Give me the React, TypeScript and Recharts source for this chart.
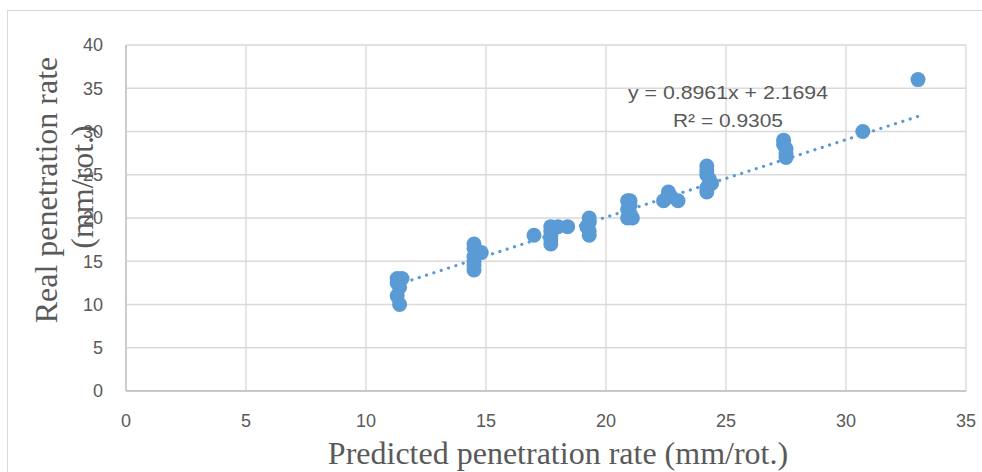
import { ScatterChart, Scatter, XAxis, YAxis, CartesianGrid } from 'recharts';

// predicted vs real penetration rate (mm/rot.)
const predicted = [
  11.3, 11.5, 11.3, 11.4, 11.3, 11.4,
  14.5, 14.5, 14.8, 14.5, 14.5, 14.5, 14.5,
  17.0,
  17.7, 17.7, 17.7, 17.7, 17.7, 18.0, 18.4,
  19.2, 19.3, 19.3, 19.3, 19.3,
  20.9, 21.0, 20.9, 21.0, 20.9, 21.1, 21.0,
  22.4, 22.6, 22.7, 23.0,
  24.2, 24.2, 24.2, 24.3, 24.4, 24.2, 24.2,
  27.4, 27.4, 27.5, 27.5, 27.5,
  30.7,
  33.0,
];
const real = [
  13, 13, 12.5, 12, 11, 10,
  17, 16.5, 16, 15.5, 15, 14.5, 14,
  18,
  19, 18.5, 18, 17.5, 17, 19, 19,
  19, 20, 19.5, 18.5, 18,
  22, 21.5, 21, 20.5, 20, 20, 22,
  22, 23, 22.5, 22,
  26, 25.5, 25, 24.5, 24, 23.5, 23,
  29, 28.5, 28, 27.5, 27,
  30,
  36,
];

// linear trendline as printed on the chart
const slope = 0.8961;
const intercept = 2.1694;
const trendX = [11.3, 33.0];

const xTicks = [0, 5, 10, 15, 20, 25, 30, 35];
const yTicks = [0, 5, 10, 15, 20, 25, 30, 35, 40];

const points = predicted.map((x, i) => ({ x, y: real[i] }));
const trend = trendX.map((x) => ({ x, y: slope * x + intercept }));

const colors = {
  point: '#5b9bd5',
  grid: '#d9d9d9',
  axis: '#bfbfbf',
  text: '#595959',
};

const tickStyle = { fontSize: 18, fill: colors.text, fontFamily: 'Liberation Sans, Arial, sans-serif' };
const serif = 'Liberation Serif, Times New Roman, serif';

const Dot = (props: any) => <circle cx={props.cx} cy={props.cy} r={7.5} fill={colors.point} />;
const NoDot = () => <g />;

export default function App() {
  return (
    <div style={{ position: 'absolute', left: 0, top: 0, width: 982, height: 472, background: '#fff', overflow: 'hidden' }}>
      <div
        style={{
          position: 'absolute',
          left: 7,
          top: 10,
          width: 990,
          height: 480,
          border: `1px solid ${colors.grid}`,
        }}
      />
      <div style={{ position: 'absolute', left: 0, top: 0 }}>
        <ScatterChart width={982} height={472} margin={{ top: 45, right: 16, left: 86, bottom: 51 }}>
          <CartesianGrid stroke={colors.grid} strokeWidth={1.3} />
          <XAxis
            type="number"
            dataKey="x"
            domain={[0, 35]}
            ticks={xTicks}
            height={30}
            tickSize={0}
            tickMargin={23}
            stroke={colors.axis}
            strokeWidth={1.3}
            tick={tickStyle}
          />
          <YAxis
            type="number"
            dataKey="y"
            domain={[0, 40]}
            ticks={yTicks}
            width={40}
            tickSize={0}
            tickMargin={23}
            stroke={colors.axis}
            strokeWidth={1.3}
            tick={tickStyle}
          />
          <Scatter data={points} shape={Dot} isAnimationActive={false} />
          <Scatter
            data={trend}
            shape={NoDot}
            line={{ stroke: colors.point, strokeWidth: 3.2, strokeDasharray: '0.1 7.6', strokeLinecap: 'round' }}
            isAnimationActive={false}
          />
        </ScatterChart>
      </div>
      <svg width={982} height={472} style={{ position: 'absolute', left: 0, top: 0, pointerEvents: 'none' }}>
        <text
          x={728}
          y={99}
          textAnchor="middle"
          fontSize={19}
          fill={colors.text}
          fontFamily="Liberation Sans, Arial, sans-serif"
          textLength={200}
          lengthAdjust="spacingAndGlyphs"
        >
          y = 0.8961x + 2.1694
        </text>
        <text
          x={728}
          y={127}
          textAnchor="middle"
          fontSize={19}
          fill={colors.text}
          fontFamily="Liberation Sans, Arial, sans-serif"
          textLength={110}
          lengthAdjust="spacingAndGlyphs"
        >
          R² = 0.9305
        </text>
        <text transform="translate(57,190) rotate(-90)" textAnchor="middle" fontSize={32} fill={colors.text} fontFamily={serif}>
          Real penetration rate
        </text>
        <text transform="translate(93,187) rotate(-90)" textAnchor="middle" fontSize={32} fill={colors.text} fontFamily={serif}>
          (mm/rot.)
        </text>
        <text x={558} y={464} textAnchor="middle" fontSize={32} fill={colors.text} fontFamily={serif}>
          Predicted penetration rate (mm/rot.)
        </text>
      </svg>
    </div>
  );
}
